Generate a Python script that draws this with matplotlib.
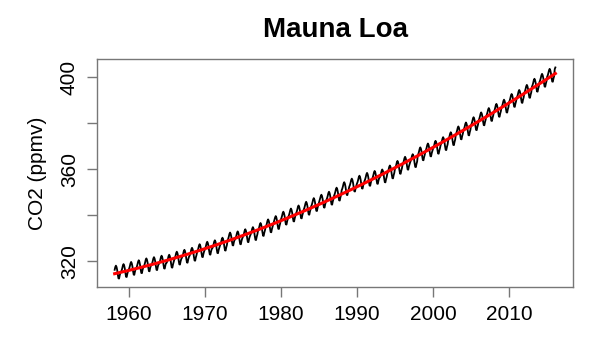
import numpy as np
import matplotlib
matplotlib.use("Agg")
import matplotlib.pyplot as plt

plt.rcParams['font.family'] = ['Liberation Sans', 'DejaVu Sans']

# Annual mean CO2 (ppmv) at Mauna Loa, 1958..2016
years = list(range(1958, 2017))
annual_mean = [315.3, 315.97, 316.91, 317.64, 318.45, 318.99, 319.62, 320.04, 321.37, 322.18,
               323.05, 324.62, 325.68, 326.32, 327.45, 329.68, 330.18, 331.11, 332.04, 333.83,
               335.40, 336.84, 338.75, 340.11, 341.45, 343.05, 344.65, 346.12, 347.42, 349.19,
               351.57, 353.12, 354.39, 355.61, 356.45, 357.10, 358.83, 360.82, 362.61, 363.73,
               366.70, 368.38, 369.55, 371.14, 373.28, 375.80, 377.52, 379.80, 381.90, 383.79,
               385.60, 387.43, 389.90, 391.65, 393.85, 396.52, 398.65, 400.83, 404.24]
# Monthly deviation from the calendar-year mean (Jan..Dec)
month_offset = [-0.7, 0.0, 1.0, 2.2, 2.8, 2.2, 0.9, -1.1, -2.7, -2.8, -1.4, -0.4]
first_month = 3   # record starts March 1958
last_month = 2    # record ends February 2016

t, co2 = [], []
for yi, y in enumerate(years):
    for m in range(12):
        if y == years[0] and m + 1 < first_month:
            continue
        if y == years[-1] and m + 1 > last_month:
            continue
        t.append(y + m / 12.0)
        co2.append(annual_mean[yi] + month_offset[m])
t = np.array(t)
co2 = np.array(co2)

# smooth trend (red) fitted to the monthly record
coef = np.polyfit(t - 1985, co2, 3)
trend = np.polyval(coef, t - 1985)

fig = plt.figure(figsize=(6.0, 3.54), dpi=100)
ax = fig.add_axes([0.1617, 0.1893, 0.7933, 0.644])
ax.plot(t, co2, color='black', lw=1.3)
ax.plot(t, trend, color='#ff0000', lw=2.2)
ax.margins(x=0.04, y=0.04)

ax.set_xticks([1960, 1970, 1980, 1990, 2000, 2010])
ax.set_yticks([320, 340, 360, 380, 400])
ax.set_yticklabels(['320', '', '360', '', '400'], rotation=90, va='center')
for s in ax.spines.values():
    s.set_color('#777777')
    s.set_linewidth(1.0)
ax.tick_params(axis='both', colors='#777777', labelcolor='black', length=7, width=1.0,
               labelsize=15, pad=6)
ax.set_ylabel('CO2 (ppmv)', fontsize=15, labelpad=9)
ax.set_title('Mauna Loa', fontsize=20, fontweight='bold', pad=16)

fig.savefig('out.png', dpi=100)
